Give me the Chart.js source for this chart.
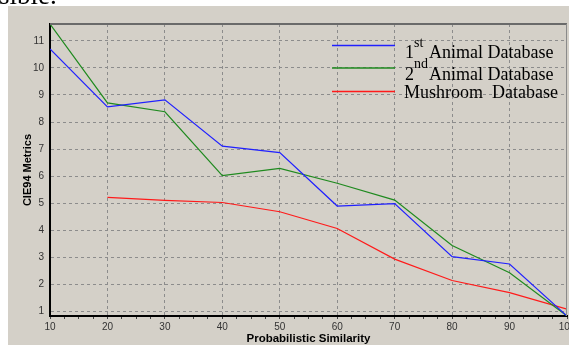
<!DOCTYPE html>
<html><head><meta charset="utf-8">
<script src="https://cdn.jsdelivr.net/npm/chart.js@4.4.1/dist/chart.umd.min.js"></script>
<style>
html,body{margin:0;padding:0;background:#fff;overflow:hidden}
#wrap{position:relative;width:569px;height:345px}
#cap{position:absolute;left:0;top:0;width:120px;height:6px;overflow:hidden;z-index:2}
#cap span{position:absolute;left:-1px;top:-17.6px;font:27px/27px "Liberation Serif",serif;color:#000;white-space:nowrap}
canvas{position:absolute;left:0;top:0}
</style></head>
<body>
<div id="wrap">
<div id="cap"><span>sible.</span></div>
<canvas id="c" width="569" height="345"></canvas>
</div>
<script>
// ---- data ----
const similarity = [10, 20, 30, 40, 50, 60, 70, 80, 90, 100];
const animal1   = [10.70, 8.56, 8.82, 7.11, 6.87, 4.90, 4.99, 3.03, 2.76, 0.84];
const animal2   = [11.62, 8.71, 8.38, 6.02, 6.29, 5.74, 5.12, 3.44, 2.44, 0.84];
const mushroom  = [null, 5.22, 5.11, 5.03, 4.69, 4.07, 2.94, 2.15, 1.70, 1.09];
const seriesLabels = ['1st Animal Database', '2nd Animal Database', 'Mushroom  Database'];
const legendParts = [['1', 'st', 'Animal Database'], ['2', 'nd', 'Animal Database'], ['Mushroom  Database']];
const yTickValues = [1, 2, 3, 4, 5, 6, 7, 8, 9, 10, 11];
const xTickValues = [10, 20, 30, 40, 50, 60, 70, 80, 90, 100];
const xTitle = 'Probabilistic Similarity';
const yTitle = 'CIE94 Metrics';

const colors = ['#2020ff', '#1f8a1f', '#ff1a1a'];
const toPts = arr => similarity.map((x, i) => ({x: x, y: arr[i]}));

const panelPlugin = {
  id: 'panel',
  beforeDraw(chart) {
    const ctx = chart.ctx;
    ctx.save();
    ctx.fillStyle = '#d4d0c8';
    ctx.fillRect(8, 6, chart.width - 8, chart.height - 6);
    ctx.restore();
  },
  afterDraw(chart) {
    const {ctx, chartArea: a} = chart;
    ctx.save();
    ctx.strokeStyle = '#6a6a6a';
    ctx.lineWidth = 2;
    ctx.beginPath();
    ctx.moveTo(a.left, a.top);
    ctx.lineTo(a.right, a.top);
    ctx.stroke();
    ctx.strokeStyle = '#8a8a8a';
    ctx.lineWidth = 1;
    ctx.beginPath();
    ctx.moveTo(a.right - 0.5, a.top);
    ctx.lineTo(a.right - 0.5, a.bottom);
    ctx.stroke();
    ctx.restore();
  }
};

const legendPlugin = {
  id: 'customLegend',
  afterDatasetsDraw(chart) {
    const ctx = chart.ctx;
    const lineYs = [45.5, 68, 91.5];
    const baseYs = [58, 79.5, 98];
    ctx.save();
    chart.data.datasets.forEach((ds, i) => {
      ctx.strokeStyle = ds.borderColor;
      ctx.lineWidth = 1.6;
      ctx.beginPath();
      ctx.moveTo(332, lineYs[i]);
      ctx.lineTo(395, lineYs[i]);
      ctx.stroke();
      const parts = legendParts[i];
      ctx.fillStyle = '#000';
      ctx.textBaseline = 'alphabetic';
      ctx.textAlign = 'left';
      if (parts.length === 3) {
        ctx.font = '18px "Liberation Serif"';
        ctx.fillText(parts[0], 405, baseYs[i]);
        const w = ctx.measureText(parts[0]).width;
        ctx.font = '14px "Liberation Serif"';
        ctx.fillText(parts[1], 405 + w, baseYs[i] - 11.5);
        ctx.font = '18px "Liberation Serif"';
        ctx.fillText(parts[2], 429, baseYs[i]);
      } else {
        ctx.font = '18px "Liberation Serif"';
        ctx.fillText(parts[0], 404, baseYs[i]);
      }
    });
    ctx.restore();
  }
};

Chart.defaults.font.family = '"Liberation Sans", Arial, sans-serif';

new Chart(document.getElementById('c'), {
  type: 'line',
  data: {
    datasets: [
      {label: seriesLabels[0], data: toPts(animal1), borderColor: colors[0]},
      {label: seriesLabels[1], data: toPts(animal2), borderColor: colors[1]},
      {label: seriesLabels[2], data: toPts(mushroom), borderColor: colors[2]}
    ].map(d => Object.assign(d, {borderWidth: 1.2, pointRadius: 0, tension: 0, fill: false, spanGaps: false}))
  },
  options: {
    responsive: false,
    animation: false,
    devicePixelRatio: 1,
    layout: {padding: {top: 24, right: 2, left: 0, bottom: 0}},
    plugins: {legend: {display: false}, tooltip: {enabled: false}},
    scales: {
      x: {
        type: 'linear',
        min: 10, max: 100,
        afterFit(s) { s.height = 29; s.paddingLeft = 0; s.paddingRight = 0; },
        afterBuildTicks(s) {
          const t = [];
          for (let v = 10; v <= 100; v += 2.5) t.push({value: v});
          s.ticks = t;
        },
        ticks: {
          autoSkip: false, maxRotation: 0, padding: 2,
          color: '#333', font: {size: 10},
          callback: v => xTickValues.includes(v) ? String(v) : ''
        },
        grid: {
          color: c => (c.tick && c.tick.value % 10 === 0 && c.tick.value > 10 && c.tick.value < 100) ? '#8c8c8c' : 'rgba(0,0,0,0)',
          lineWidth: 1,
          drawTicks: true, tickLength: 3, tickColor: '#444', tickWidth: 1
        },
        border: {display: true, color: '#000', width: 2, dash: [3, 3]},
        title: {display: true, text: xTitle, color: '#000', font: {size: 11.5, weight: 'bold', lineHeight: 1.1}, padding: {top: 0, bottom: 0}}
      },
      y: {
        type: 'linear',
        min: 0.84, max: 11.62,
        afterFit(s) { s.width = 50; s.paddingTop = 0; s.paddingBottom = 0; },
        afterBuildTicks(s) { s.ticks = yTickValues.map(v => ({value: v})); },
        ticks: {color: '#333', font: {size: 10}, padding: 6},
        grid: {color: '#8c8c8c', lineWidth: 1, drawTicks: false},
        border: {display: true, color: '#000', width: 2, dash: [3, 3]},
        title: {display: true, text: yTitle, color: '#000', font: {size: 11, weight: 'bold', lineHeight: 1.1}, padding: {top: 22, bottom: 0}}
      }
    }
  },
  plugins: [panelPlugin, legendPlugin]
});
</script>
</body></html>
